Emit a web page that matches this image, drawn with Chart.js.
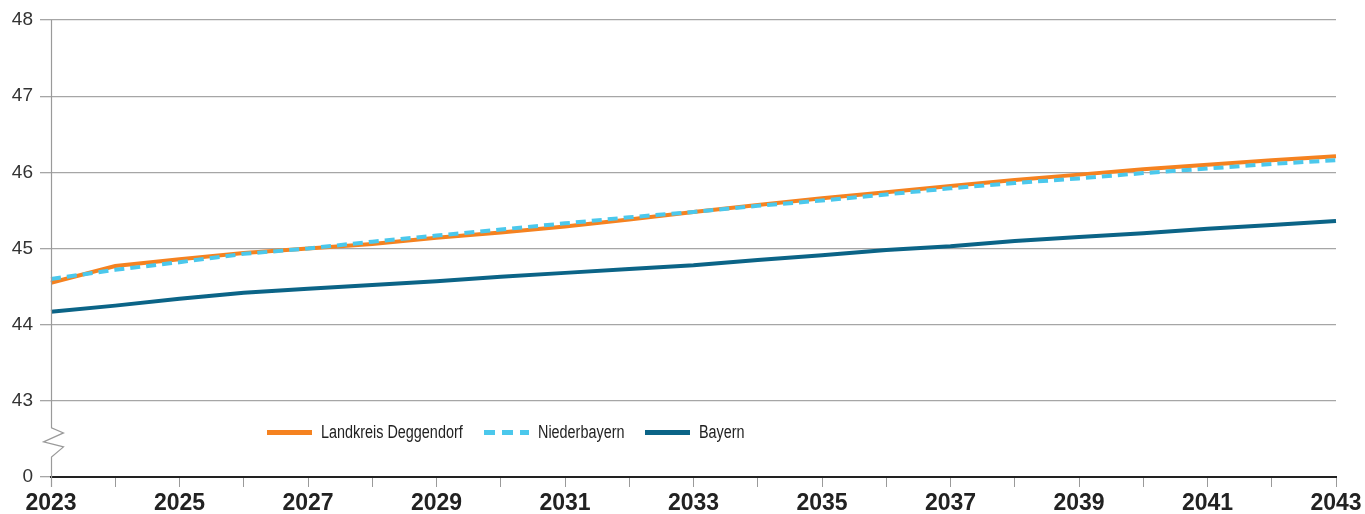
<!DOCTYPE html>
<html>
<head>
<meta charset="utf-8">
<script src="https://cdn.jsdelivr.net/npm/chart.js@4"></script>
<style>
  html, body { margin: 0; padding: 0; background: #fff; font-family: "Liberation Sans", Arial, sans-serif; }
  #wrap { position: relative; width: 1365px; height: 514px; }
  #legende {
    position: absolute; left: 267px; top: 420px; height: 24px;
    display: flex; align-items: center;
    font-family: "Liberation Sans", Arial, sans-serif;
    font-size: 18px; color: #222; white-space: nowrap;
  }
  #legende .eintrag { display: flex; align-items: center; margin-right: 21px; }
  #legende .muster { width: 45px; height: 5px; margin-right: 9px; flex: none; }
  #legende .text { display: inline-block; transform: scaleX(0.8); transform-origin: left center; }
  #vorlade { position: absolute; left: -9999px; }
</style>
</head>
<body>
<div id="wrap">
  <canvas id="c" width="1365" height="514"></canvas>
  <div id="legende"></div>
</div>
<div id="vorlade"><b>2023</b> 48</div>
<script>
// Jahre und Werte (Durchschnittsalter)
const jahre = ['2023','2024','2025','2026','2027','2028','2029','2030','2031','2032','2033',
               '2034','2035','2036','2037','2038','2039','2040','2041','2042','2043'];
const deggendorf = [44.55, 44.77, 44.86, 44.94, 45.00, 45.06, 45.14, 45.21, 45.29, 45.38, 45.48,
                    45.57, 45.66, 45.74, 45.82, 45.90, 45.97, 46.04, 46.10, 46.16, 46.21];
const niederbayern = [44.60, 44.72, 44.82, 44.93, 45.00, 45.09, 45.17, 45.25, 45.33, 45.41, 45.48,
                      45.56, 45.63, 45.71, 45.79, 45.86, 45.92, 45.99, 46.05, 46.11, 46.16];
const bayern = [44.17, 44.25, 44.34, 44.42, 44.47, 44.52, 44.57, 44.63, 44.68, 44.73, 44.78,
                44.85, 44.91, 44.98, 45.03, 45.10, 45.15, 45.20, 45.26, 45.31, 45.36];
// y-Achse: 42 steht für die unterbrochene "0"
const yTicks = [42, 43, 44, 45, 46, 47, 48];

const schrift = '"Liberation Sans", Arial, sans-serif';

// Achse mit Bruch-Zickzack zwischen 0 und 43
const achsenBruch = {
  id: 'achsenBruch',
  afterDraw(chart) {
    const ctx = chart.ctx;
    const y = chart.scales.y;
    const x0 = chart.chartArea.left + 0.5;
    const top = y.getPixelForValue(48);
    const unten = y.getPixelForValue(42) + 10;
    const m = (y.getPixelForValue(43) + y.getPixelForValue(42)) / 2 + 3;
    ctx.save();
    ctx.strokeStyle = '#9a9a9a';
    ctx.lineWidth = 1.2;
    ctx.beginPath();
    ctx.moveTo(x0, top);
    ctx.lineTo(x0, m - 14);
    ctx.lineTo(x0 + 12, m - 9);
    ctx.lineTo(x0 - 8, m);
    ctx.lineTo(x0 + 12, m + 5);
    ctx.lineTo(x0, m + 15);
    ctx.lineTo(x0, unten);
    ctx.stroke();
    ctx.restore();
  }
};

function zeichnen() {
  const datasets = [
    { label: 'Landkreis Deggendorf', data: deggendorf, borderColor: '#f58220', order: 1 },
    { label: 'Niederbayern', data: niederbayern, borderColor: '#4bc8ec', borderDash: [10, 6], order: 0 },
    { label: 'Bayern', data: bayern, borderColor: '#0b6487', order: 2 },
  ].map(d => Object.assign({ borderWidth: 4, pointRadius: 0, tension: 0, fill: false }, d));

  const chart = new Chart(document.getElementById('c'), {
    type: 'line',
    data: { labels: jahre, datasets },
    plugins: [achsenBruch],
    options: {
      responsive: false,
      animation: false,
      layout: { padding: { top: 20, right: 29, left: 0, bottom: 0 } },
      plugins: { legend: { display: false }, tooltip: { enabled: false } },
      scales: {
        x: {
          offset: false,
          grid: { drawOnChartArea: false, drawTicks: true, tickLength: 10, color: '#9a9a9a' },
          border: { color: '#222', width: 2 },
          ticks: {
            autoSkip: false, maxRotation: 0, padding: 3,
            color: '#222', font: { family: schrift, size: 23, weight: 'bold' },
            callback: (v, i) => (i % 2 === 0 ? jahre[i] : ''),
          },
          afterFit: (s) => { s.height = 37; },
        },
        y: {
          min: 42, max: 48,
          afterBuildTicks: (s) => { s.ticks = yTicks.map(v => ({ value: v })); },
          grid: { color: '#a6a6a6', tickLength: 11, lineWidth: 1.3 },
          border: { display: false },
          ticks: {
            padding: 7, color: '#333', font: { family: schrift, size: 19 },
            callback: (v) => (v === 42 ? '0' : String(v)),
          },
          afterFit: (s) => { s.width = 51; },
        },
      },
    },
  });

  // Legende als HTML aus den Datensätzen
  const leg = document.getElementById('legende');
  chart.data.datasets.forEach(d => {
    const e = document.createElement('div');
    e.className = 'eintrag';
    const m = document.createElement('span');
    m.className = 'muster';
    m.style.background = d.borderDash
      ? `repeating-linear-gradient(90deg, ${d.borderColor} 0 11px, transparent 11px 18px)`
      : d.borderColor;
    const t = document.createElement('span');
    t.className = 'text';
    t.textContent = d.label;
    e.appendChild(m); e.appendChild(t);
    leg.appendChild(e);
    t.style.marginRight = (-t.offsetWidth * 0.2) + 'px';
  });
}

Promise.all([
  document.fonts.load('bold 23px "Liberation Sans"'),
  document.fonts.load('19px "Liberation Sans"'),
]).then(zeichnen, zeichnen);
</script>
</body>
</html>
